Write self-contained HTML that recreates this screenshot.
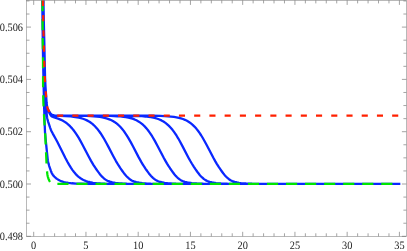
<!DOCTYPE html>
<html><head><meta charset="utf-8"><title>plot</title><style>
html,body{margin:0;padding:0;background:#fff;overflow:hidden}
svg{display:block}
text{font-family:"Liberation Serif",serif;font-size:11.4px;fill:#222;text-rendering:geometricPrecision}
.lb{filter:grayscale(1)}
</style></head><body>
<svg width="407" height="251" viewBox="0 0 407 251">
<rect width="407" height="251" fill="#fff"/>
<g fill="none" stroke="#0a28ff" stroke-width="2.3" stroke-linejoin="round" stroke-linecap="square">
<path d="M42.19 -7.79 L42.61 27.35 L43.06 57.31 L43.56 82.78 L44.20 109.03 L44.61 122.48 L45.02 132.30 L45.61 139.22 L47.37 156.20 L47.65 158.83 L47.85 160.26 L48.10 161.71 L48.47 163.42 L49.22 166.01 L50.72 170.46 L51.22 171.83 L51.72 172.99 L52.22 173.93 L52.72 174.71 L53.22 175.38 L54.21 176.51 L55.15 177.43 L56.06 178.21 L56.97 178.89 L58.35 179.76 L60.23 180.69 L61.17 181.08 L62.58 181.58 L64.01 182.00 L65.45 182.35 L68.42 182.87 L71.92 183.27 L75.92 183.55 L80.92 183.75 L86.92 183.86 L96.92 183.93 L114.42 183.95 L399.20 183.95 M43.18 -7.45 L43.59 17.86 L44.05 39.85 L44.54 65.92 L44.85 82.45 L45.04 88.40 L45.27 93.57 L46.45 111.30 L46.89 116.03 L47.14 117.68 L47.39 118.94 L48.02 121.31 L50.27 128.08 L50.77 129.44 L51.52 131.17 L52.77 133.59 L55.77 138.99 L57.27 141.79 L59.27 145.70 L65.52 158.26 L67.52 162.03 L69.02 164.68 L71.02 167.92 L72.52 170.10 L74.02 172.07 L75.52 173.83 L77.02 175.37 L78.02 176.29 L79.02 177.12 L80.52 178.23 L82.52 179.46 L83.52 179.98 L85.02 180.65 L86.02 181.04 L87.52 181.55 L90.02 182.21 L93.02 182.78 L96.52 183.21 L100.52 183.52 L105.02 183.72 L111.02 183.85 L121.02 183.92 L138.02 183.95 L399.20 183.95 M43.27 -7.60 L43.67 15.30 L44.14 36.83 L44.68 61.11 L44.98 75.66 L45.16 81.14 L45.42 86.33 L46.53 102.75 L46.91 106.25 L47.16 107.62 L47.53 109.04 L48.03 110.35 L50.03 114.18 L50.53 115.03 L51.03 115.69 L51.53 116.17 L52.53 116.81 L53.53 117.24 L58.03 118.68 L60.53 119.63 L62.53 120.57 L64.03 121.41 L66.03 122.72 L68.03 124.30 L70.04 126.17 L72.06 128.37 L73.59 130.25 L75.13 132.32 L76.67 134.60 L78.74 137.94 L80.29 140.64 L82.37 144.45 L88.41 156.03 L91.04 160.86 L93.69 165.30 L95.77 168.47 L97.27 170.60 L98.20 171.91 L99.52 173.68 L100.78 175.24 L102.04 176.60 L103.31 177.78 L104.51 178.79 L105.61 179.65 L106.38 180.15 L107.62 180.80 L109.96 181.66 L112.41 182.29 L115.38 182.83 L118.38 183.20 L122.38 183.51 L126.88 183.71 L132.88 183.84 L142.38 183.92 L159.38 183.95 L397.80 183.95 M43.28 -7.61 L43.70 16.39 L44.21 38.89 L44.72 62.63 L45.05 77.21 L45.45 86.08 L46.62 102.97 L46.81 104.70 L47.06 106.32 L47.44 107.84 L47.94 109.19 L48.44 110.17 L50.44 113.64 L50.94 114.27 L51.44 114.70 L51.94 114.99 L52.44 115.21 L52.94 115.36 L53.94 115.56 L55.44 115.71 L65.44 116.10 L70.94 116.47 L73.44 116.74 L75.44 117.01 L78.94 117.64 L80.94 118.13 L82.94 118.73 L84.94 119.47 L86.44 120.13 L87.94 120.89 L89.44 121.78 L90.94 122.80 L92.44 123.96 L93.94 125.29 L94.95 126.28 L96.46 127.91 L97.48 129.10 L99.52 131.76 L100.55 133.22 L102.10 135.58 L104.17 139.01 L106.24 142.72 L108.33 146.65 L113.32 156.24 L115.95 161.06 L118.61 165.48 L120.17 167.88 L121.19 169.36 L122.17 170.75 L123.54 172.65 L124.41 173.80 L125.67 175.34 L126.51 176.26 L127.78 177.49 L129.02 178.54 L130.12 179.44 L131.67 180.43 L132.52 180.84 L133.90 181.38 L136.33 182.09 L139.29 182.69 L142.29 183.11 L146.29 183.46 L150.79 183.68 L156.29 183.82 L165.79 183.92 L181.79 183.95 L397.80 183.95 M43.28 -7.65 L43.78 20.35 L44.42 47.05 L44.84 69.02 L45.03 76.45 L45.27 82.66 L45.56 87.77 L46.44 100.77 L46.69 103.55 L46.94 105.56 L47.19 106.84 L47.44 107.78 L47.94 109.13 L48.44 110.11 L49.94 112.75 L50.44 113.57 L50.94 114.19 L51.44 114.61 L51.94 114.90 L52.94 115.26 L54.44 115.50 L55.94 115.60 L57.94 115.64 L76.44 115.74 L86.44 115.94 L90.44 116.11 L93.94 116.32 L96.94 116.59 L99.94 116.96 L102.44 117.38 L104.44 117.80 L106.44 118.33 L107.94 118.80 L109.94 119.55 L111.44 120.22 L112.94 121.00 L114.44 121.91 L115.94 122.94 L117.44 124.13 L118.94 125.48 L120.45 127.02 L121.97 128.74 L123.50 130.65 L124.53 132.05 L126.07 134.30 L128.14 137.60 L130.73 142.15 L132.82 146.05 L138.59 157.13 L141.23 161.89 L142.83 164.55 L143.88 166.22 L145.43 168.56 L146.44 170.00 L147.40 171.34 L148.74 173.18 L149.59 174.28 L150.85 175.77 L151.69 176.65 L152.96 177.82 L154.15 178.83 L155.25 179.68 L156.84 180.62 L157.72 181.02 L159.13 181.53 L161.57 182.20 L164.54 182.77 L167.54 183.16 L171.54 183.49 L176.04 183.70 L181.04 183.82 L190.04 183.91 L206.04 183.95 L397.80 183.95 M43.28 -7.65 L43.90 25.67 L44.65 58.24 L44.82 68.09 L45.03 76.45 L45.24 82.12 L45.56 87.77 L46.56 102.24 L46.81 104.65 L46.94 105.56 L47.19 106.84 L47.44 107.78 L47.94 109.13 L48.44 110.11 L49.94 112.75 L50.44 113.56 L50.94 114.18 L51.44 114.61 L51.94 114.90 L52.94 115.25 L53.94 115.44 L55.44 115.57 L56.94 115.62 L89.44 115.68 L100.94 115.74 L110.44 115.92 L113.94 116.04 L117.44 116.23 L120.44 116.46 L123.44 116.79 L125.94 117.15 L128.44 117.62 L130.44 118.10 L132.44 118.70 L134.44 119.43 L136.44 120.32 L138.44 121.41 L139.94 122.37 L141.94 123.88 L143.44 125.20 L144.95 126.69 L146.47 128.38 L148.00 130.26 L149.53 132.33 L150.56 133.83 L152.11 136.24 L154.70 140.65 L157.30 145.45 L163.86 158.01 L165.45 160.87 L167.04 163.59 L168.63 166.14 L170.18 168.48 L171.68 170.61 L173.06 172.53 L174.35 174.23 L175.19 175.25 L176.03 176.18 L176.87 177.02 L177.72 177.79 L179.28 179.10 L180.78 180.16 L182.47 181.00 L184.85 181.81 L187.30 182.40 L189.29 182.76 L191.79 183.09 L194.29 183.34 L196.79 183.51 L203.29 183.77 L212.29 183.90 L235.79 183.95 L397.80 183.95 M43.28 -7.65 L43.90 25.67 L44.65 58.24 L44.82 68.09 L45.03 76.45 L45.24 82.12 L45.56 87.77 L46.56 102.24 L46.81 104.65 L46.94 105.56 L47.19 106.84 L47.44 107.78 L47.94 109.13 L48.44 110.11 L49.94 112.75 L50.44 113.56 L50.94 114.18 L51.44 114.61 L51.94 114.90 L52.94 115.25 L53.94 115.44 L55.44 115.57 L57.94 115.63 L119.44 115.70 L130.44 115.81 L138.44 116.03 L141.94 116.21 L145.44 116.48 L148.44 116.81 L150.94 117.18 L153.44 117.67 L155.44 118.16 L157.44 118.76 L159.44 119.51 L161.44 120.42 L163.44 121.53 L165.44 122.87 L166.94 124.05 L168.94 125.88 L170.46 127.46 L172.49 129.86 L174.02 131.90 L175.05 133.37 L176.60 135.74 L178.16 138.30 L179.71 141.02 L182.31 145.85 L188.61 157.91 L190.19 160.78 L191.79 163.51 L193.90 166.86 L195.43 169.14 L196.90 171.21 L198.25 173.06 L199.53 174.70 L200.37 175.67 L201.21 176.57 L202.48 177.75 L204.05 179.07 L205.54 180.13 L207.23 180.98 L209.60 181.79 L212.06 182.39 L214.04 182.75 L216.04 183.03 L218.54 183.29 L221.04 183.48 L227.54 183.75 L236.04 183.89 L258.54 183.95 L397.80 183.95 M43.28 -7.65 L43.90 25.67 L44.65 58.24 L44.82 68.09 L45.03 76.45 L45.24 82.12 L45.56 87.77 L46.56 102.24 L46.81 104.65 L46.94 105.56 L47.19 106.84 L47.44 107.78 L47.94 109.13 L48.44 110.11 L49.94 112.75 L50.44 113.56 L50.94 114.18 L51.44 114.61 L51.94 114.90 L52.94 115.25 L53.94 115.44 L55.44 115.57 L58.44 115.64 L138.94 115.67 L151.94 115.76 L160.44 115.93 L164.44 116.09 L167.94 116.29 L170.94 116.55 L173.94 116.91 L176.44 117.30 L178.94 117.83 L180.94 118.36 L182.94 119.01 L184.94 119.81 L186.94 120.79 L188.94 121.97 L190.94 123.40 L192.94 125.11 L194.45 126.59 L196.47 128.86 L198.00 130.79 L199.54 132.92 L201.09 135.25 L202.64 137.77 L204.20 140.46 L206.80 145.25 L213.62 158.30 L215.20 161.15 L216.80 163.86 L218.90 167.18 L220.44 169.43 L221.89 171.47 L223.22 173.29 L224.50 174.90 L225.33 175.86 L226.17 176.73 L227.45 177.89 L228.99 179.19 L230.50 180.23 L232.21 181.05 L234.60 181.85 L237.05 182.43 L239.04 182.78 L241.04 183.05 L243.54 183.31 L246.04 183.49 L252.04 183.75 L260.04 183.88 L281.54 183.95 L397.80 183.95"/>
</g>
<path d="M42.45 -8.00 L42.64 28.00 L42.80 44.00 L42.99 56.00 L43.09 86.00 L43.26 98.00 L43.44 104.00 L44.15 118.00 L45.30 136.00 L46.54 164.00 L46.76 168.00 L47.08 172.00 L47.36 174.25 L47.71 176.25 L48.04 177.50 L48.58 179.00 L49.36 180.75 L49.96 181.75 L50.34 182.25 L50.84 182.75 L51.60 183.25 L53.00 183.70 L53.80 183.83 L55.30 183.92 L58.30 183.95 L399.20 183.95" fill="none" stroke="#00e600" stroke-width="2.25" stroke-dasharray="11.15 7.9" stroke-dashoffset="-8.0"/>
<path d="M42.78 -7.65 L43.12 13.04 L43.50 31.42 L44.02 52.46 L44.47 68.09 L44.78 76.45 L45.09 82.65 L45.44 87.77 L46.38 99.98 L46.69 103.54 L46.94 105.56 L47.19 106.84 L47.69 108.52 L47.94 109.13 L48.44 110.11 L50.44 113.56 L50.94 114.18 L51.44 114.61 L51.94 114.90 L52.44 115.10 L53.44 115.36 L54.94 115.54 L57.44 115.62 L61.44 115.65 L399.20 115.65" fill="none" stroke="#ff2000" stroke-width="2.2" stroke-dasharray="6.1 9.13" stroke-dashoffset="-7.56"/>
<g stroke="#8a8a8a" stroke-width="0.6" fill="none">
<rect x="26.50" y="0.40" width="379.90" height="235.90"/>
<g stroke="#666"><path d="M33.70 236.30L33.70 231.80"/><path d="M33.70 0.40L33.70 4.90"/><path d="M44.15 236.30L44.15 233.30"/><path d="M44.15 0.40L44.15 3.40"/><path d="M54.60 236.30L54.60 233.30"/><path d="M54.60 0.40L54.60 3.40"/><path d="M65.05 236.30L65.05 233.30"/><path d="M65.05 0.40L65.05 3.40"/><path d="M75.50 236.30L75.50 233.30"/><path d="M75.50 0.40L75.50 3.40"/><path d="M85.94 236.30L85.94 231.80"/><path d="M85.94 0.40L85.94 4.90"/><path d="M96.39 236.30L96.39 233.30"/><path d="M96.39 0.40L96.39 3.40"/><path d="M106.84 236.30L106.84 233.30"/><path d="M106.84 0.40L106.84 3.40"/><path d="M117.29 236.30L117.29 233.30"/><path d="M117.29 0.40L117.29 3.40"/><path d="M127.74 236.30L127.74 233.30"/><path d="M127.74 0.40L127.74 3.40"/><path d="M138.19 236.30L138.19 231.80"/><path d="M138.19 0.40L138.19 4.90"/><path d="M148.64 236.30L148.64 233.30"/><path d="M148.64 0.40L148.64 3.40"/><path d="M159.09 236.30L159.09 233.30"/><path d="M159.09 0.40L159.09 3.40"/><path d="M169.54 236.30L169.54 233.30"/><path d="M169.54 0.40L169.54 3.40"/><path d="M179.99 236.30L179.99 233.30"/><path d="M179.99 0.40L179.99 3.40"/><path d="M190.44 236.30L190.44 231.80"/><path d="M190.44 0.40L190.44 4.90"/><path d="M200.88 236.30L200.88 233.30"/><path d="M200.88 0.40L200.88 3.40"/><path d="M211.33 236.30L211.33 233.30"/><path d="M211.33 0.40L211.33 3.40"/><path d="M221.78 236.30L221.78 233.30"/><path d="M221.78 0.40L221.78 3.40"/><path d="M232.23 236.30L232.23 233.30"/><path d="M232.23 0.40L232.23 3.40"/><path d="M242.68 236.30L242.68 231.80"/><path d="M242.68 0.40L242.68 4.90"/><path d="M253.13 236.30L253.13 233.30"/><path d="M253.13 0.40L253.13 3.40"/><path d="M263.58 236.30L263.58 233.30"/><path d="M263.58 0.40L263.58 3.40"/><path d="M274.03 236.30L274.03 233.30"/><path d="M274.03 0.40L274.03 3.40"/><path d="M284.48 236.30L284.48 233.30"/><path d="M284.48 0.40L284.48 3.40"/><path d="M294.93 236.30L294.93 231.80"/><path d="M294.93 0.40L294.93 4.90"/><path d="M305.37 236.30L305.37 233.30"/><path d="M305.37 0.40L305.37 3.40"/><path d="M315.82 236.30L315.82 233.30"/><path d="M315.82 0.40L315.82 3.40"/><path d="M326.27 236.30L326.27 233.30"/><path d="M326.27 0.40L326.27 3.40"/><path d="M336.72 236.30L336.72 233.30"/><path d="M336.72 0.40L336.72 3.40"/><path d="M347.17 236.30L347.17 231.80"/><path d="M347.17 0.40L347.17 4.90"/><path d="M357.62 236.30L357.62 233.30"/><path d="M357.62 0.40L357.62 3.40"/><path d="M368.07 236.30L368.07 233.30"/><path d="M368.07 0.40L368.07 3.40"/><path d="M378.52 236.30L378.52 233.30"/><path d="M378.52 0.40L378.52 3.40"/><path d="M388.97 236.30L388.97 233.30"/><path d="M388.97 0.40L388.97 3.40"/><path d="M399.41 236.30L399.41 231.80"/><path d="M399.41 0.40L399.41 4.90"/><path d="M26.50 236.30L31.00 236.30"/><path d="M406.40 236.30L401.90 236.30"/><path d="M26.50 223.23L29.50 223.23"/><path d="M406.40 223.23L403.40 223.23"/><path d="M26.50 210.15L29.50 210.15"/><path d="M406.40 210.15L403.40 210.15"/><path d="M26.50 197.08L29.50 197.08"/><path d="M406.40 197.08L403.40 197.08"/><path d="M26.50 184.00L31.00 184.00"/><path d="M406.40 184.00L401.90 184.00"/><path d="M26.50 170.93L29.50 170.93"/><path d="M406.40 170.93L403.40 170.93"/><path d="M26.50 157.85L29.50 157.85"/><path d="M406.40 157.85L403.40 157.85"/><path d="M26.50 144.78L29.50 144.78"/><path d="M406.40 144.78L403.40 144.78"/><path d="M26.50 131.70L31.00 131.70"/><path d="M406.40 131.70L401.90 131.70"/><path d="M26.50 118.63L29.50 118.63"/><path d="M406.40 118.63L403.40 118.63"/><path d="M26.50 105.55L29.50 105.55"/><path d="M406.40 105.55L403.40 105.55"/><path d="M26.50 92.48L29.50 92.48"/><path d="M406.40 92.48L403.40 92.48"/><path d="M26.50 79.40L31.00 79.40"/><path d="M406.40 79.40L401.90 79.40"/><path d="M26.50 66.33L29.50 66.33"/><path d="M406.40 66.33L403.40 66.33"/><path d="M26.50 53.25L29.50 53.25"/><path d="M406.40 53.25L403.40 53.25"/><path d="M26.50 40.18L29.50 40.18"/><path d="M406.40 40.18L403.40 40.18"/><path d="M26.50 27.10L31.00 27.10"/><path d="M406.40 27.10L401.90 27.10"/><path d="M26.50 14.03L29.50 14.03"/><path d="M406.40 14.03L403.40 14.03"/><path d="M26.50 0.95L29.50 0.95"/><path d="M406.40 0.95L403.40 0.95"/></g>
</g>
<g class="lb"><text transform="translate(33.70,249.0) scale(0.907,1)" text-anchor="middle">0</text><text transform="translate(85.94,249.0) scale(0.907,1)" text-anchor="middle">5</text><text transform="translate(138.19,249.0) scale(0.907,1)" text-anchor="middle">10</text><text transform="translate(190.44,249.0) scale(0.907,1)" text-anchor="middle">15</text><text transform="translate(242.68,249.0) scale(0.907,1)" text-anchor="middle">20</text><text transform="translate(294.93,249.0) scale(0.907,1)" text-anchor="middle">25</text><text transform="translate(347.17,249.0) scale(0.907,1)" text-anchor="middle">30</text><text transform="translate(399.41,249.0) scale(0.907,1)" text-anchor="middle">35</text><text transform="translate(23,239.90) scale(0.907,1)" text-anchor="end">0.498</text><text transform="translate(23,187.60) scale(0.907,1)" text-anchor="end">0.500</text><text transform="translate(23,135.30) scale(0.907,1)" text-anchor="end">0.502</text><text transform="translate(23,83.00) scale(0.907,1)" text-anchor="end">0.504</text><text transform="translate(23,30.70) scale(0.907,1)" text-anchor="end">0.506</text></g>
</svg>
</body></html>
